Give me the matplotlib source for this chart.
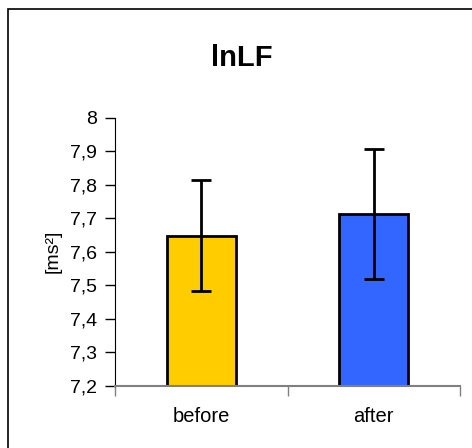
import matplotlib.pyplot as plt
from matplotlib.patches import Rectangle
from matplotlib.ticker import FuncFormatter

plt.rcParams["font.family"] = ["Liberation Sans", "DejaVu Sans"]

# データ
categories = ["before", "after"]
means = [7.648, 7.712]
errors = [0.166, 0.193]
bar_colors = ["#FFCC00", "#3366FF"]

W, H = 472, 448
fig = plt.figure(figsize=(W / 100, H / 100), dpi=100)

# 外枠
fig.patches.append(Rectangle((8 / W, -0.1), 1.2, 1 - 9 / H + 0.1, transform=fig.transFigure,
                             fill=False, edgecolor="k", linewidth=1.2))

ax = fig.add_axes([115 / W, 1 - 386 / H, 345 / W, (386 - 117.5) / H])
x = list(range(len(categories)))
ax.bar(x, [m - 7.2 for m in means], bottom=7.2, width=0.4, color=bar_colors,
       edgecolor="k", linewidth=2, zorder=2)
ax.errorbar(x, means, yerr=errors, fmt="none", ecolor="k", elinewidth=2,
            capsize=7, capthick=2, zorder=3)

ax.set_xlim(-0.5, 1.5)
ax.set_ylim(7.2, 8.0)
ax.set_yticks([7.2 + 0.1 * i for i in range(9)])
ax.yaxis.set_major_formatter(FuncFormatter(
    lambda v, p: "8" if abs(v - 8) < 1e-6 else f"{v:.1f}".replace(".", ",")))
ax.set_xticks([-0.5, 0.5, 1.5])
ax.set_xticklabels([])
ax.set_xticks(x, minor=True)
ax.set_xticklabels(categories, minor=True)
ax.tick_params(axis="x", which="minor", length=0, pad=15, labelsize=14.5)
ax.tick_params(axis="x", which="major", length=7, width=1, color="#808080")
ax.tick_params(axis="y", length=7, width=1, labelsize=14, pad=6)

for s in ["top", "right"]:
    ax.spines[s].set_visible(False)
ax.spines["left"].set_color("k")
ax.spines["bottom"].set_color("#808080")
ax.spines["bottom"].set_linewidth(1.5)

ax.set_ylabel("[ms²]", fontsize=14, labelpad=6)
fig.text(242 / W, 1 - 58 / H, "lnLF", fontsize=21, fontweight="bold",
         ha="center", va="center")

fig.savefig("out.png", dpi=100)
